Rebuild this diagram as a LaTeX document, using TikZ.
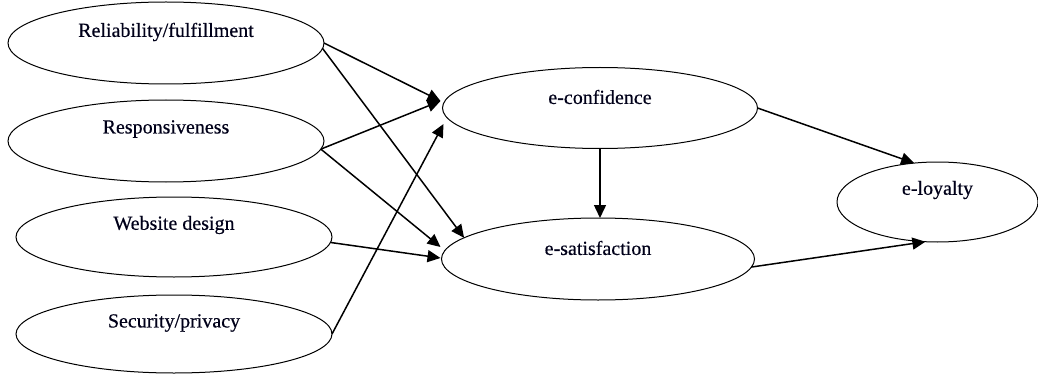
\documentclass[tikz,border=0pt]{standalone}
\usepackage{fontspec}
\setmainfont{Liberation Serif}[FakeBold=0.4]
\usetikzlibrary{arrows.meta,calc,shapes.geometric}
\begin{document}
\begin{tikzpicture}[x=1pt,y=-1pt,
  ell/.style={draw, ellipse, line width=1pt, outer sep=0pt, inner sep=0pt},
  lbl/.style={font=\fontsize{20}{24}\selectfont, inner sep=0pt, text=black!90!blue},
  arr/.style={line width=1.5pt, -{Triangle[length=13pt,width=12pt]}}]
\useasboundingbox (0,0) rectangle (1038,377);

\node[ell, minimum width=316pt, minimum height=82pt] (rel)  at (166,43) {};
\node[ell, minimum width=316pt, minimum height=82pt] (resp) at (166,141) {};
\node[ell, minimum width=316pt, minimum height=80pt] (web)  at (174,237) {};
\node[ell, minimum width=316pt, minimum height=78pt] (sec)  at (174,334) {};
\node[ell, minimum width=315pt, minimum height=81pt] (conf) at (600,108) {};
\node[ell, minimum width=313pt, minimum height=82pt] (sat)  at (598,259) {};
\node[ell, minimum width=201pt, minimum height=80pt] (loy)  at (937.5,202) {};

\node[lbl] (relt)  at ($(rel.center)+(0,-11)$)  {Reliability/fulfillment};
\node[lbl] (respt) at ($(resp.center)+(0,-12)$) {Responsiveness};
\node[lbl] (webt)  at ($(web.center)+(0,-12)$)  {Website design};
\node[lbl] (sect)  at ($(sec.center)+(0,-11)$)  {Security/privacy};
\node[lbl] (conft) at ($(conf.center)+(0,-11)$) {e-confidence};
\node[lbl] (satt)  at ($(sat.center)+(0,-11)$)  {e-satisfaction};
\node[lbl] (loyt)  at ($(loy.center)+(0,-12)$)  {e-loyalty};

\draw[arr] (rel.east) -- ($(conf.west)+(-2,-7)$);
\draw[arr] (rel.-2) -- (sat.171);
\draw[arr] (resp.-3) -- ($(conf.west)+(-2,-7)$);
\draw[arr] (resp.-3) -- ($(sat.west)+(-1,-12)$);
\draw[arr] (web.-2) -- ($(sat.west)+(-1,-1)$);
\draw[arr] (sec.east) -- ($(conf.west)+(1,16)$);
\draw[arr] (conf.south) -- (conf.south |- sat.north);
\draw[arr] (conf.east) -- (loy.121);
\draw[arr] (sat.-3) -- (loy.253);
\end{tikzpicture}
\end{document}
